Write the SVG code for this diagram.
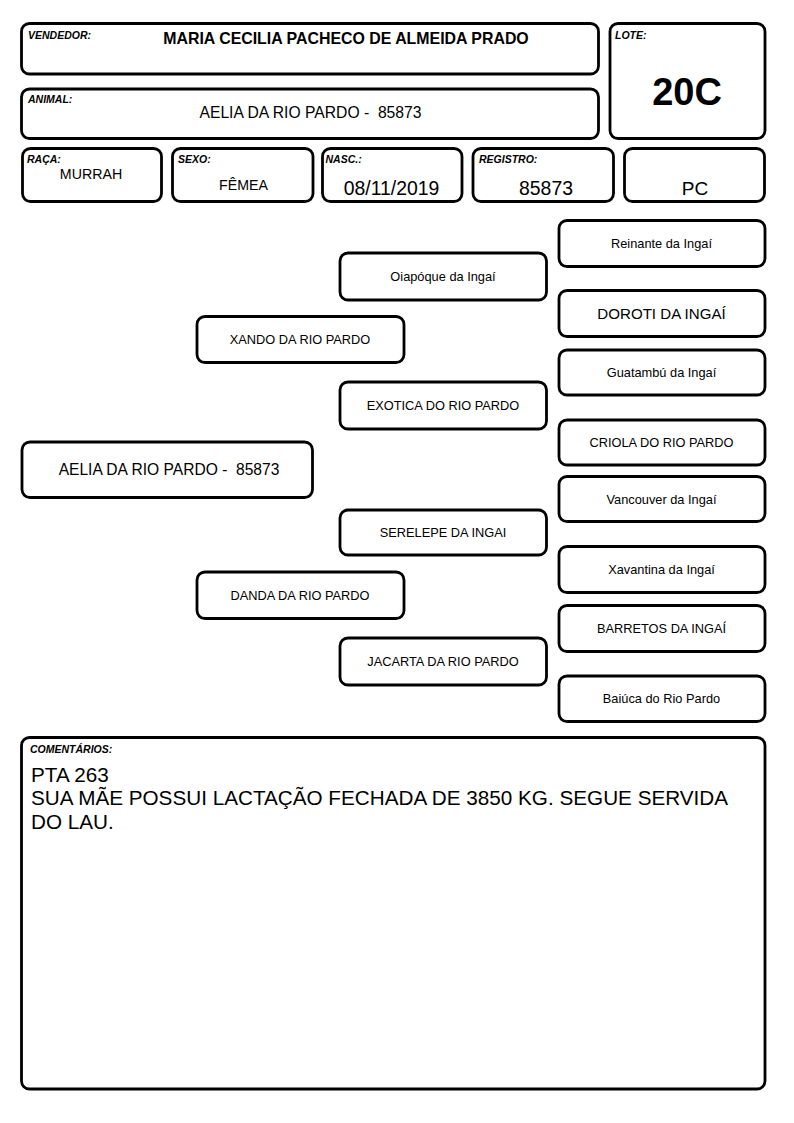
<svg xmlns="http://www.w3.org/2000/svg" width="794" height="1123" viewBox="0 0 794 1123">
<style>
rect.b{fill:#fff;stroke:#000;stroke-width:2.8}
text{font-family:"Liberation Sans",Arial,sans-serif;fill:#000;white-space:pre}
.lbl{font-size:10.5px;font-weight:bold;font-style:italic}
.ped{font-size:12.8px;text-anchor:middle}
.mid{text-anchor:middle}
</style>
<rect width="794" height="1123" fill="#fff"/>
<g id="vendedor">
<rect class="b" x="21.5" y="23.5" width="577" height="50.5" rx="8"/>
<text class="lbl" x="28" y="38.5">VENDEDOR:</text>
<text class="mid" x="346" y="43.5" style="font-size:15.9px;font-weight:bold">MARIA CECILIA PACHECO DE ALMEIDA PRADO</text>
</g>
<g id="lote">
<rect class="b" x="610" y="23.5" width="155" height="115" rx="8"/>
<text class="lbl" x="615" y="38.5">LOTE:</text>
<text class="mid" x="687" y="105" style="font-size:38px;font-weight:bold">20C</text>
</g>
<g id="animal">
<rect class="b" x="21.5" y="89" width="577" height="49.5" rx="8"/>
<text class="lbl" x="28" y="102.5">ANIMAL:</text>
<text class="mid" x="310.5" y="117.5" style="font-size:15.7px">AELIA DA RIO PARDO -  85873</text>
</g>
<g id="raca">
<rect class="b" x="22.5" y="148.5" width="139" height="53" rx="8"/>
<text class="lbl" x="27" y="162.5">RAÇA:</text>
<text class="mid" x="91" y="178.5" style="font-size:14.2px">MURRAH</text>
</g>
<g id="sexo">
<rect class="b" x="172.5" y="148.5" width="140.5" height="53" rx="8"/>
<text class="lbl" x="178" y="162.5">SEXO:</text>
<text class="mid" x="243.5" y="190" style="font-size:14.2px">FÊMEA</text>
</g>
<g id="nasc">
<rect class="b" x="322.5" y="148.5" width="139.5" height="53" rx="8"/>
<text class="lbl" x="325.5" y="162.5">NASC.:</text>
<text class="mid" x="391.5" y="194.5" style="font-size:19.4px">08/11/2019</text>
</g>
<g id="registro">
<rect class="b" x="473" y="148.5" width="140.5" height="53" rx="8"/>
<text class="lbl" x="479" y="162.5">REGISTRO:</text>
<text class="mid" x="546" y="194.5" style="font-size:19.4px">85873</text>
</g>
<g id="pc">
<rect class="b" x="624.5" y="148.5" width="140" height="53" rx="8"/>
<text class="mid" x="695" y="194.5" style="font-size:19px">PC</text>
</g>
<g id="connectors"></g>
<g id="principal">
<rect class="b" x="22" y="442" width="290.5" height="55.5" rx="8"/>
<text class="mid" x="169" y="475" style="font-size:15.6px">AELIA DA RIO PARDO -  85873</text>
</g>
<g id="pai">
<rect class="b" x="197" y="316.5" width="207" height="46" rx="8"/>
<text class="ped" x="300" y="344">XANDO DA RIO PARDO</text>
</g>
<g id="mae">
<rect class="b" x="197" y="572" width="207" height="46.5" rx="8"/>
<text class="ped" x="300" y="599.5">DANDA DA RIO PARDO</text>
</g>
<g id="avo-pp">
<rect class="b" x="340" y="253" width="206.5" height="47" rx="8"/>
<text class="ped" x="443" y="281">Oiapóque da Ingaí</text>
</g>
<g id="avo-pm">
<rect class="b" x="340" y="382" width="206.5" height="47" rx="8"/>
<text class="ped" x="443" y="410">EXOTICA DO RIO PARDO</text>
</g>
<g id="avo-mp">
<rect class="b" x="340" y="510" width="206.5" height="45" rx="8"/>
<text class="ped" x="443" y="537">SERELEPE DA INGAI</text>
</g>
<g id="avo-mm">
<rect class="b" x="340" y="638" width="206.5" height="47" rx="8"/>
<text class="ped" x="443" y="666">JACARTA DA RIO PARDO</text>
</g>
<g id="bis-1">
<rect class="b" x="559" y="220.5" width="206" height="46" rx="8"/>
<text class="ped" x="661.5" y="248">Reinante da Ingaí</text>
</g>
<g id="bis-2">
<rect class="b" x="559" y="290.5" width="206" height="46" rx="8"/>
<text class="ped" x="661.5" y="319" style="font-size:15.1px">DOROTI DA INGAÍ</text>
</g>
<g id="bis-3">
<rect class="b" x="559" y="350" width="206" height="45" rx="8"/>
<text class="ped" x="661.5" y="377">Guatambú da Ingaí</text>
</g>
<g id="bis-4">
<rect class="b" x="559" y="420" width="206" height="45" rx="8"/>
<text class="ped" x="661.5" y="447">CRIOLA DO RIO PARDO</text>
</g>
<g id="bis-5">
<rect class="b" x="559" y="476.5" width="206" height="45" rx="8"/>
<text class="ped" x="661.5" y="503.5">Vancouver da Ingaí</text>
</g>
<g id="bis-6">
<rect class="b" x="559" y="546.5" width="206" height="46" rx="8"/>
<text class="ped" x="661.5" y="574">Xavantina da Ingaí</text>
</g>
<g id="bis-7">
<rect class="b" x="559" y="605.5" width="206" height="46" rx="8"/>
<text class="ped" x="661.5" y="633">BARRETOS DA INGAÍ</text>
</g>
<g id="bis-8">
<rect class="b" x="559" y="676" width="206" height="45.5" rx="8"/>
<text class="ped" x="661.5" y="703">Baiúca do Rio Pardo</text>
</g>
<g id="comentarios">
<rect class="b" x="21.5" y="737.5" width="743.5" height="351.5" rx="8"/>
<text class="lbl" x="30" y="752.5">COMENTÁRIOS:</text>
<text x="31" y="781.5" style="font-size:20.7px">PTA 263</text>
<text x="31" y="805" style="font-size:20.7px">SUA MÃE POSSUI LACTAÇÃO FECHADA DE 3850 KG. SEGUE SERVIDA</text>
<text x="31" y="828.5" style="font-size:20.7px">DO LAU.</text>
</g>
</svg>
